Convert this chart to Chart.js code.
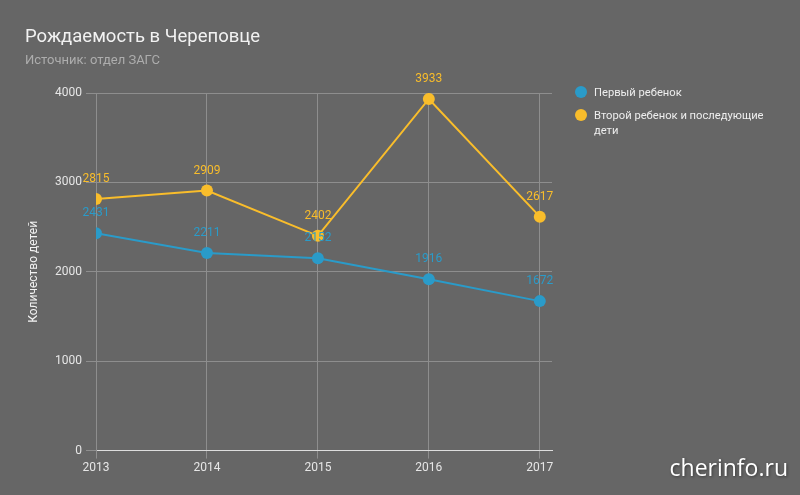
<!DOCTYPE html>
<html>
<head>
<meta charset="utf-8">
<script src="https://cdn.jsdelivr.net/npm/chart.js@4.4.0/dist/chart.umd.min.js"></script>
<style>
    html, body { margin: 0; padding: 0; background: #666666; }
    #wrap { position: relative; width: 800px; height: 495px; font-family: Roboto, sans-serif; }
    #chart { position: absolute; left: 0; top: 0; }
    .title { position: absolute; left: 25px; top: 25px; font-size: 18.5px; color: #f2f2f2; }
    .subtitle { position: absolute; left: 25px; top: 52px; font-size: 13px; color: #adadad; }
    .legend { position: absolute; left: 575px; top: 85px; width: 215px; font-size: 11.2px; color: #eeeeee; }
    .legend div { position: relative; padding-left: 19px; line-height: 15px; margin-bottom: 8px; }
    .legend span { position: absolute; left: 0; top: 1px; width: 12px; height: 12px; border-radius: 50%; }
    .mark { position: absolute; right: 12px; bottom: 12px; font-family: "Open Sans", sans-serif; font-size: 23px; color: #fff; text-shadow: 1px 1px 3px rgba(0,0,0,0.45); }
</style>
</head>
<body>
<div id="wrap">
    <canvas id="chart" width="800" height="495"></canvas>
    <div class="title">Рождаемость в Череповце</div>
    <div class="subtitle">Источник: отдел ЗАГС</div>
    <div class="legend" id="legend"></div>
    <div class="mark">cherinfo.ru</div>
</div>
<script>
    const years = [2013, 2014, 2015, 2016, 2017];
    const firstChild = [2431, 2211, 2152, 1916, 1672];
    const secondChild = [2815, 2909, 2402, 3933, 2617];
    const seriesNames = ['Первый ребенок', 'Второй ребенок и последующие дети'];
    const seriesColors = ['#2a9bc9', '#f9bd2b'];
    const yTicks = [0, 1000, 2000, 3000, 4000];

    // html legend, because the built-in one does not wrap long labels
    const legend = document.getElementById('legend');
    seriesNames.forEach(function (name, i) {
        const item = document.createElement('div');
        item.innerHTML = '<span style="background:' + seriesColors[i] + '"></span>' + name;
        legend.appendChild(item);
    });

    const valueLabels = {
        id: 'valueLabels',
        afterDatasetsDraw(chart) {
            const ctx = chart.ctx;
            ctx.save();
            ctx.font = '12px Roboto';
            ctx.textAlign = 'center';
            ctx.textBaseline = 'middle';
            chart.data.datasets.forEach(function (ds, i) {
                chart.getDatasetMeta(i).data.forEach(function (pt, j) {
                    ctx.fillStyle = ds.borderColor;
                    ctx.fillText(ds.data[j].y, pt.x, pt.y - 20);
                });
            });
            ctx.restore();
        }
    };

    function toPoints(values) {
        return values.map(function (v, i) { return {x: years[i], y: v}; });
    }

    const datasets = [firstChild, secondChild].map(function (values, i) {
        return {
            label: seriesNames[i],
            data: toPoints(values),
            borderColor: seriesColors[i],
            backgroundColor: seriesColors[i],
            borderWidth: 2,
            pointRadius: 6,
            pointBorderWidth: 0,
            tension: 0
        };
    });

    new Chart(document.getElementById('chart'), {
        type: 'line',
        data: {datasets: datasets},
        plugins: [valueLabels],
        options: {
            responsive: false,
            animation: false,
            layout: {padding: {left: 25, right: 248, top: 93, bottom: 18}},
            plugins: {
                legend: {display: false},
                tooltip: {enabled: false}
            },
            scales: {
                x: {
                    type: 'linear',
                    min: 2013,
                    max: 2017.11,
                    ticks: {
                        stepSize: 1,
                        includeBounds: false,
                        color: '#e6e6e6',
                        font: {family: 'Roboto', size: 12},
                        padding: 2,
                        callback: function (v) { return String(v); }
                    },
                    grid: {color: '#8e8e8e', tickLength: 8},
                    border: {color: '#dddddd'}
                },
                y: {
                    min: 0,
                    max: 4000,
                    afterBuildTicks: function (axis) {
                        axis.ticks = yTicks.map(function (v) { return {value: v}; });
                    },
                    afterFit: function (axis) { axis.width = 71; },
                    ticks: {
                        color: '#e6e6e6',
                        font: {family: 'Roboto', size: 12},
                        padding: 4,
                        callback: function (v) { return String(v); }
                    },
                    grid: {color: '#8e8e8e', tickLength: 10},
                    border: {color: '#8e8e8e'},
                    title: {
                        display: true,
                        text: 'Количество детей',
                        color: '#f2f2f2',
                        font: {family: 'Roboto', size: 12},
                        padding: {top: 2, bottom: 4}
                    }
                }
            }
        }
    });
</script>
</body>
</html>
